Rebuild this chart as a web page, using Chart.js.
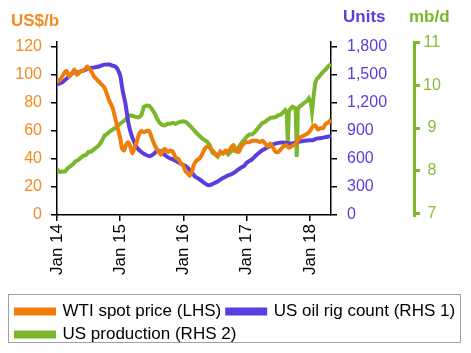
<!DOCTYPE html>
<html>
<head>
<meta charset="utf-8">
<script src="https://cdn.jsdelivr.net/npm/chart.js@4/dist/chart.umd.min.js"></script>
<style>
  html, body { margin: 0; padding: 0; background: #fff; }
  #wrap { width: 471px; height: 353px; position: relative; }
</style>
</head>
<body>
<div id="wrap"><canvas id="myChart"></canvas></div>
<script>
// months counted from Jan 2014
var tickMonths = [0, 12, 24, 36, 48];
var tickLabels = ['Jan 14', 'Jan 15', 'Jan 16', 'Jan 17', 'Jan 18'];
var priceTicks = [0, 20, 40, 60, 80, 100, 120];
var rigTicks = [0, 300, 600, 900, 1200, 1500, 1800];
var prodTicks = [7, 8, 9, 10, 11];

var wtiMonths = [0,0.7,1.3,1.8,2.3,2.8,3.3,3.8,4.3,4.8,5.3,5.7,6.2,6.6,7,7.5,8,8.5,9,9.5,10,10.5,11,11.5,12,12.3,12.7,13.1,13.5,13.9,14.3,14.7,15.1,15.5,16,16.5,17,17.5,17.9,18.3,18.8,19.3,19.7,20.1,20.5,21,21.5,22,22.5,23,23.5,24,24.4,24.8,25.2,25.6,26,26.5,27,27.5,28,28.5,29,29.5,30,30.5,31,31.5,32,32.5,33,33.5,34,34.5,35,35.5,36,36.5,37,37.5,38,38.5,39,39.5,40,40.5,41,41.5,42,42.5,43,43.5,44,44.5,45,45.5,46,46.5,47,47.5,48,48.5,49,49.5,50,50.5,51,51.5,52];
var wtiPrice = [95,97,101,103,99,101,104,100,102,103,104,106,104,102,99,97,95,93,91,86,81,77,70,62,55,48,46,50,52,49,44,48,52,57,60,59,60,60,56,52,48,45,43,46,47,45,46,45,41,40,37,35,31,30,28,31,36,39,40,43,47,49,48,46,44,42,45,44,46,45,48,50,46,45,49,51,52,52,53,53,53,52,53,51,49,51,48,45,45,47,49,50,48,49,50,52,55,56,57,58,60,63,64,61,62,62,65,66,68];

var rigMonths = [0,1,2,3,4,5,6,7,8,9,10,10.5,11,11.5,12,12.5,13,13.5,14,14.5,15,15.5,16,16.5,17,17.5,18,18.5,19,19.5,20,20.5,21,21.5,22,22.5,23,24,24.5,25,25.5,26,26.5,27,27.5,28,28.5,29,29.5,30,30.5,31,31.5,32,32.5,33,33.5,34,34.5,35,35.5,36,37,38,39,40,40.5,41,42,43,44,44.5,45,45.5,46,47,48,48.5,49,49.5,50,50.5,51,51.5,52];
var rigCount = [1400,1420,1470,1520,1530,1545,1570,1580,1590,1610,1610,1600,1590,1560,1490,1320,1190,1000,880,800,740,700,675,655,640,630,640,660,690,685,665,640,620,605,595,580,565,535,520,495,460,425,400,385,362,342,322,320,330,345,358,378,395,410,425,435,450,470,490,510,525,560,595,650,695,725,742,755,772,775,768,765,770,775,785,795,800,800,812,820,822,828,835,840,846];

var prodMonths = [0,0.5,1,1.5,2,2.5,3,3.5,4,4.5,5,5.5,6,6.5,7,7.5,8,8.5,9,9.5,10,10.5,11,11.5,12,12.5,13,13.5,14,14.5,15,15.5,16,16.5,17,17.5,18,18.5,19,19.5,20,20.5,21,21.5,22,22.5,23,23.5,24,24.5,25,25.5,26,26.5,27,27.5,28,28.5,29,29.5,30,30.5,31,31.5,32,32.5,33,33.5,34,34.5,35,35.5,36,36.5,37,37.5,38,38.5,39,39.5,40,40.5,41,41.5,42,42.5,43,43.3,43.6,43.8,44,44.3,44.7,45,45.3,45.5,45.7,46,46.5,47,47.5,47.8,48.2,48.4,48.7,49,49.3,49.7,50,50.5,51,51.5,52];
var prodMbd = [8.03,7.97,7.98,7.98,8.05,8.1,8.15,8.22,8.25,8.3,8.35,8.37,8.44,8.45,8.5,8.55,8.6,8.7,8.82,8.86,8.92,8.96,9.0,9.05,9.1,9.15,9.2,9.27,9.3,9.28,9.26,9.25,9.3,9.5,9.53,9.52,9.45,9.35,9.22,9.12,9.07,9.06,9.1,9.1,9.12,9.1,9.13,9.15,9.16,9.14,9.08,9.02,8.95,8.88,8.82,8.76,8.72,8.68,8.6,8.42,8.38,8.33,8.45,8.4,8.45,8.38,8.45,8.48,8.45,8.55,8.65,8.72,8.8,8.85,8.85,8.9,8.98,9.05,9.12,9.15,9.2,9.24,9.25,9.26,9.3,9.32,9.38,9.42,9.35,8.68,9.4,9.45,9.5,9.48,9.46,8.32,9.45,9.5,9.55,9.6,9.64,9.7,9.6,9.39,9.75,10.05,10.15,10.2,10.25,10.32,10.38,10.45,10.5];

var orange = '#EE7D0A';
var purple = '#5A3DDE';
var green = '#7AB72D';
var fontFamily = '"Liberation Sans", Arial, sans-serif';

function pts(xs, ys) {
  return xs.map(function (x, i) { return {x: x, y: ys[i]}; });
}

function fixedTicks(list) {
  return function (scale) {
    scale.ticks = list.map(function (v) { return {value: v}; });
  };
}

var titles = {
  id: 'titles',
  afterDraw: function (chart) {
    var ctx = chart.ctx;
    ctx.save();
    ctx.font = 'bold 17px ' + fontFamily;
    ctx.textBaseline = 'middle';
    ctx.textAlign = 'left';
    ctx.fillStyle = '#F28B22';
    ctx.fillText('US$/b', 11, 21);
    ctx.fillStyle = purple;
    ctx.fillText('Units', 343, 17);
    ctx.fillStyle = green;
    ctx.fillText('mb/d', 409, 17);
    // legend frame
    var lg = chart.legend;
    ctx.strokeStyle = '#a0a0a0';
    ctx.lineWidth = 1;
    ctx.strokeRect(8.5, lg.top - 2.5, 452, lg.bottom - lg.top - 8);
    ctx.restore();
  }
};

var config = {
  type: 'line',
  data: {
    datasets: [{
      label: 'WTI spot price (LHS)',
      data: pts(wtiMonths, wtiPrice),
      borderColor: orange,
      backgroundColor: orange,
      borderWidth: 4,
      pointRadius: 0,
      tension: 0.2,
      yAxisID: 'y'
    }, {
      label: 'US oil rig count (RHS 1)',
      data: pts(rigMonths, rigCount),
      borderColor: purple,
      backgroundColor: purple,
      borderWidth: 4,
      pointRadius: 0,
      tension: 0.2,
      yAxisID: 'y1'
    }, {
      label: 'US production (RHS 2)',
      data: pts(prodMonths, prodMbd),
      borderColor: green,
      backgroundColor: green,
      borderWidth: 4,
      pointRadius: 0,
      tension: 0,
      yAxisID: 'y2'
    }]
  },
  options: {
    responsive: true,
    maintainAspectRatio: false,
    animation: false,
    layout: { padding: { top: 42, left: 10, right: 0, bottom: 0 } },
    plugins: {
      tooltip: { enabled: false },
      legend: {
        position: 'bottom',
        align: 'start',
        labels: {
          boxWidth: 38,
          boxHeight: 4,
          padding: 6,
          color: '#000',
          font: { family: fontFamily, size: 17 }
        }
      }
    },
    scales: {
      x: {
        type: 'linear',
        min: 0,
        max: 52,
        afterBuildTicks: fixedTicks(tickMonths),
        afterFit: function (scale) { scale.height = 82; },
        border: { color: '#000', width: 1.5 },
        grid: { drawOnChartArea: false, color: '#000', tickLength: 6, lineWidth: 1.5 },
        ticks: {
          autoSkip: false,
          maxRotation: 90,
          minRotation: 90,
          padding: 3,
          color: '#000',
          font: { family: fontFamily, size: 17 },
          callback: function (v) { return tickLabels[tickMonths.indexOf(v)]; }
        }
      },
      y: {
        position: 'left',
        min: 0,
        max: 123.5,
        afterBuildTicks: fixedTicks(priceTicks),
        afterFit: function (scale) { scale.width = 47; },
        border: { color: '#000', width: 1.5 },
        grid: { drawOnChartArea: false, color: '#000', tickLength: 6, lineWidth: 1.5 },
        ticks: {
          autoSkip: false,
          padding: 9,
          color: '#F28B22',
          font: { family: fontFamily, size: 16 }
        }
      },
      y1: {
        position: 'right',
        min: 0,
        max: 1852,
        afterBuildTicks: fixedTicks(rigTicks),
        afterFit: function (scale) { scale.width = 83; },
        border: { color: '#000', width: 1.5 },
        grid: { drawOnChartArea: false, color: '#000', tickLength: 6, lineWidth: 1.5 },
        ticks: {
          autoSkip: false,
          padding: 10,
          color: purple,
          font: { family: fontFamily, size: 16 },
          callback: function (v) { return v.toLocaleString('en-US'); }
        }
      },
      y2: {
        position: 'right',
        min: 6.96,
        max: 11.02,
        afterBuildTicks: fixedTicks(prodTicks),
        afterFit: function (scale) { scale.width = 57; },
        border: { color: green, width: 3 },
        grid: { drawOnChartArea: false, color: green, tickLength: 6, lineWidth: 3 },
        ticks: {
          autoSkip: false,
          padding: 3,
          crossAlign: 'center',
          color: '#86BE3A',
          font: { family: fontFamily, size: 16 }
        }
      }
    }
  },
  plugins: [titles]
};

var myChart = new Chart(document.getElementById('myChart'), config);
</script>
</body>
</html>
